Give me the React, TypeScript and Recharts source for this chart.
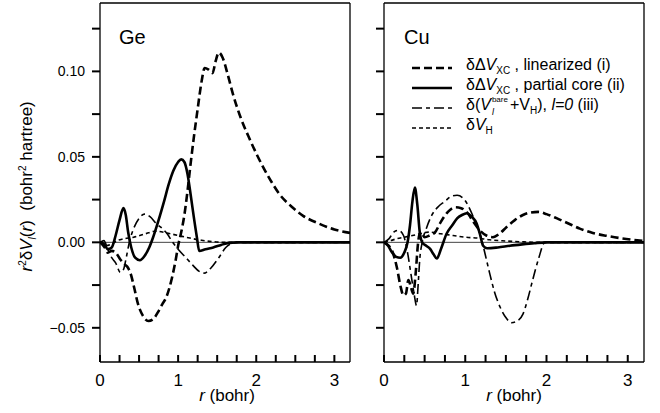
import { LineChart, Line, XAxis, YAxis, ReferenceLine } from 'recharts'

// r (bohr) vs r^2 dV (bohr^2 hartree)
const GE_LINEARIZED = [
  [0, 0], [0.06, -0.003], [0.1, -0.006], [0.15, -0.005], [0.2, -0.006], [0.26, -0.01], [0.32, -0.013],
  [0.36, -0.015], [0.39, -0.018], [0.44, -0.027], [0.48, -0.035], [0.55, -0.043], [0.62, -0.046],
  [0.68, -0.045], [0.74, -0.041], [0.8, -0.036], [0.84, -0.033], [0.92, -0.021], [0.97, -0.01],
  [1.0, -0.002], [1.04, 0.006], [1.08, 0.016], [1.12, 0.03], [1.16, 0.046], [1.2, 0.061], [1.25, 0.078],
  [1.3, 0.094], [1.34, 0.102], [1.39, 0.101], [1.44, 0.099], [1.48, 0.106], [1.52, 0.111], [1.57, 0.108],
  [1.63, 0.099], [1.7, 0.087], [1.8, 0.073], [1.9, 0.062], [2.0, 0.052], [2.1, 0.043], [2.2, 0.035],
  [2.3, 0.028], [2.45, 0.021], [2.6, 0.0155], [2.8, 0.011], [3.0, 0.0075], [3.2, 0.0055],
]
const GE_PARTIAL = [
  [0, 0], [0.05, -0.001], [0.1, -0.004], [0.15, -0.003], [0.2, 0.004], [0.25, 0.013], [0.3, 0.02],
  [0.33, 0.016], [0.36, 0.006], [0.4, -0.003], [0.45, -0.009], [0.51, -0.0105], [0.57, -0.008],
  [0.63, -0.003], [0.68, 0.003], [0.75, 0.013], [0.82, 0.024], [0.88, 0.034], [0.94, 0.042], [1.0, 0.047],
  [1.04, 0.0485], [1.08, 0.047], [1.12, 0.04], [1.16, 0.028], [1.2, 0.015], [1.24, 0.003], [1.27, -0.005],
  [1.35, -0.004], [1.45, -0.003], [1.55, -0.0015], [1.65, -0.0003], [1.75, 0], [3.2, 0],
]
const GE_BARE = [
  [0, 0], [0.05, 0.001], [0.1, -0.004], [0.15, -0.009], [0.2, -0.012], [0.26, -0.0175], [0.3, -0.016],
  [0.34, -0.008], [0.38, 0.001], [0.43, 0.008], [0.5, 0.014], [0.57, 0.0165], [0.64, 0.015], [0.72, 0.011],
  [0.8, 0.008], [0.86, 0.005], [0.93, 0.0], [1.0, -0.004], [1.1, -0.009], [1.19, -0.0135], [1.27, -0.017],
  [1.33, -0.018], [1.42, -0.015], [1.52, -0.009], [1.61, -0.003], [1.7, -0.0005], [1.8, 0], [3.2, 0],
]
const GE_HARTREE = [
  [0, 0], [0.08, -0.002], [0.15, -0.001], [0.22, 0.001], [0.3, 0.002], [0.43, 0.003], [0.58, 0.005],
  [0.71, 0.0065], [0.85, 0.0055], [1.0, 0.004], [1.15, 0.0025], [1.3, 0.0012], [1.45, 0.0004], [1.6, 0], [3.2, 0],
]

const CU_LINEARIZED = [
  [0, 0], [0.06, -0.002], [0.1, -0.005], [0.16, -0.015], [0.2, -0.025], [0.24, -0.031], [0.27, -0.03],
  [0.3, -0.022], [0.33, -0.026], [0.36, -0.03], [0.39, -0.018], [0.42, 0.0], [0.45, 0.006], [0.5, 0.003],
  [0.56, 0.004], [0.63, 0.006], [0.7, 0.012], [0.79, 0.018], [0.88, 0.0205], [0.95, 0.02], [1.03, 0.017],
  [1.1, 0.012], [1.18, 0.007], [1.26, 0.004], [1.34, 0.003], [1.42, 0.005], [1.51, 0.009], [1.61, 0.013],
  [1.71, 0.016], [1.8, 0.0174], [1.9, 0.0178], [2.0, 0.0165], [2.13, 0.014], [2.27, 0.011], [2.41, 0.008],
  [2.57, 0.0055], [2.74, 0.0038], [2.9, 0.0025], [3.06, 0.0015], [3.2, 0.0008],
]
const CU_PARTIAL = [
  [0, 0], [0.05, -0.002], [0.1, -0.006], [0.15, -0.0085], [0.2, -0.009], [0.25, -0.006], [0.29, 0.0],
  [0.32, 0.01], [0.35, 0.024], [0.38, 0.032], [0.41, 0.022], [0.44, 0.006], [0.47, 0.0], [0.52, -0.002],
  [0.57, -0.004], [0.61, -0.007], [0.65, -0.0095], [0.7, -0.004], [0.77, 0.005], [0.84, 0.01], [0.9, 0.014],
  [0.96, 0.016], [1.02, 0.017], [1.08, 0.015], [1.14, 0.011], [1.18, 0.005], [1.22, -0.002], [1.27, -0.0035],
  [1.4, -0.003], [1.55, -0.002], [1.7, -0.0012], [1.85, -0.0005], [2.0, 0], [3.2, 0],
]
const CU_BARE = [
  [0, 0], [0.06, 0.002], [0.12, 0.006], [0.18, 0.007], [0.24, 0.004], [0.29, -0.006], [0.33, -0.018],
  [0.37, -0.03], [0.4, -0.037], [0.42, -0.025], [0.44, -0.01], [0.47, 0.0], [0.52, 0.008], [0.59, 0.016],
  [0.67, 0.021], [0.75, 0.024], [0.83, 0.027], [0.9, 0.0275], [0.97, 0.026], [1.03, 0.022], [1.08, 0.017],
  [1.13, 0.011], [1.18, 0.005], [1.22, -0.002], [1.26, -0.01], [1.3, -0.018], [1.36, -0.029], [1.43, -0.038],
  [1.5, -0.044], [1.57, -0.047], [1.64, -0.046], [1.71, -0.042], [1.77, -0.033], [1.83, -0.022],
  [1.9, -0.01], [1.98, 0], [3.2, 0],
]
const CU_HARTREE = [
  [0, 0], [0.08, 0.001], [0.15, 0.002], [0.25, 0.003], [0.4, 0.0045], [0.55, 0.006], [0.7, 0.005],
  [0.85, 0.004], [1.0, 0.003], [1.15, 0.0025], [1.3, 0.0015], [1.5, 0.0008], [1.7, 0.0003], [1.9, 0], [3.2, 0],
]

const X_TICKS = [0, 0.25, 0.5, 0.75, 1, 1.25, 1.5, 1.75, 2, 2.25, 2.5, 2.75, 3]
const X_LABELS = [0, 1, 2, 3]
const Y_TICKS = [-0.05, -0.025, 0, 0.025, 0.05, 0.075, 0.1, 0.125]

const FONT = '"Liberation Sans", Arial, Helvetica, sans-serif'
const INK = '#000'
const TW = 2 // tick stroke width

const STYLE = {
  lin: { strokeWidth: 2.6, dash: '8 4' },
  core: { strokeWidth: 2.6, dash: undefined },
  bare: { strokeWidth: 1.6, dash: '10 4 4 4' },
  hart: { strokeWidth: 1.6, dash: '4 3' },
}

const toPts = (arr: number[][]) => arr.map(([r, v]) => ({ r, v }))

// tickSize/tickMargin are 0 so x/y below sit on the axis line itself
function BottomTick({ x, y, payload }: any) {
  const lbl = X_LABELS.includes(payload.value)
  return (
    <g>
      <path d={`M${x},${y}V${y - 7}`} stroke={INK} strokeWidth={TW} fill="none" />
      {lbl && (
        <text x={x} y={y + 24} textAnchor="middle" fontSize={17} fontFamily={FONT} fill="#000">
          {payload.value}
        </text>
      )}
    </g>
  )
}

function TopTick({ x, y }: any) {
  return <path d={`M${x},${y}V${y + 7}`} stroke={INK} strokeWidth={TW} fill="none" />
}

function LeftTick({ x, y, payload, showLabel }: any) {
  const v = payload.value
  const major = Math.abs(v * 20 - Math.round(v * 20)) < 1e-6
  return (
    <g>
      <path d={`M${x - 8},${y}H${x}`} stroke={INK} strokeWidth={TW} fill="none" />
      {showLabel && major && (
        <text x={x - 15} y={y} dy={5} textAnchor="end" fontSize={14} fontFamily={FONT} fill="#000">
          {v.toFixed(2).replace('-', '\u2212')}
        </text>
      )}
    </g>
  )
}

function RightTick({ x, y }: any) {
  return <path d={`M${x},${y}H${x + 7}`} stroke={INK} strokeWidth={TW} fill="none" />
}

function Panel({ series, width, leftW, rightW, labels }: any) {
  const axisLine = { stroke: INK, strokeWidth: 1.3 }
  return (
    <LineChart width={width} height={413} margin={{ top: 0, right: 0, bottom: 0, left: 0 }}>
      <XAxis xAxisId="b" type="number" dataKey="r" domain={[0, 3.2]} ticks={X_TICKS} allowDataOverflow
        height={51} tickSize={0} tickMargin={0} tickLine={false} tick={BottomTick} axisLine={axisLine} interval={0} />
      <XAxis xAxisId="t" orientation="top" type="number" dataKey="r" domain={[0, 3.2]} ticks={X_TICKS}
        height={3} tickSize={0} tickMargin={0} tickLine={false} tick={TopTick} axisLine={axisLine} interval={0} />
      <YAxis yAxisId="l" type="number" domain={[-0.07, 0.14]} ticks={Y_TICKS} allowDataOverflow width={leftW}
        tickSize={0} tickMargin={0} tickLine={false} tick={(p: any) => <LeftTick {...p} showLabel={labels} />}
        axisLine={axisLine} interval={0} />
      <YAxis yAxisId="r" orientation="right" type="number" domain={[-0.07, 0.14]} ticks={Y_TICKS} width={rightW}
        tickSize={0} tickMargin={0} tickLine={false} tick={RightTick} axisLine={axisLine} interval={0} />
      <ReferenceLine xAxisId="b" yAxisId="l" y={0} stroke="#444" strokeWidth={1} />
      {series.map((s: any) => (
        <Line key={s.key} xAxisId="b" yAxisId="l" data={toPts(s.data)} dataKey="v" type="monotone"
          stroke="#000" strokeWidth={STYLE[s.key as keyof typeof STYLE].strokeWidth}
          strokeDasharray={STYLE[s.key as keyof typeof STYLE].dash} dot={false} isAnimationActive={false} />
      ))}
    </LineChart>
  )
}

function LegendRow({ k, children }: any) {
  const st = STYLE[k as keyof typeof STYLE]
  return (
    <div style={{ display: 'flex', alignItems: 'center', height: 20 }}>
      <svg width={48} height={10} style={{ marginRight: 8 }}>
        <line x1={2} y1={5} x2={42} y2={5} stroke="#000" strokeWidth={st.strokeWidth} strokeDasharray={st.dash} />
      </svg>
      <span style={{ fontSize: 16, whiteSpace: 'nowrap', lineHeight: '20px' }}>{children}</span>
    </div>
  )
}

const sub = { fontSize: 10, verticalAlign: -4 }

export default function App() {
  const ge = [
    { key: 'lin', data: GE_LINEARIZED },
    { key: 'core', data: GE_PARTIAL },
    { key: 'bare', data: GE_BARE },
    { key: 'hart', data: GE_HARTREE },
  ]
  const cu = [
    { key: 'lin', data: CU_LINEARIZED },
    { key: 'core', data: CU_PARTIAL },
    { key: 'bare', data: CU_BARE },
    { key: 'hart', data: CU_HARTREE },
  ]
  return (
    <div style={{ position: 'absolute', left: 0, top: 0, width: 660, height: 413, background: '#fff', fontFamily: FONT, color: '#000' }}>
      <div style={{ position: 'absolute', left: 0, top: 0 }}>
        <Panel series={ge} width={360} leftW={100} rightW={10} labels />
      </div>
      <div style={{ position: 'absolute', left: 360, top: 0 }}>
        <Panel series={cu} width={300} leftW={24} rightW={16} labels={false} />
      </div>

      <div style={{ position: 'absolute', left: 119, top: 26, fontSize: 20 }}>Ge</div>
      <div style={{ position: 'absolute', left: 404, top: 26, fontSize: 20 }}>Cu</div>

      <div style={{ position: 'absolute', left: 127, width: 200, top: 387, fontSize: 17, textAlign: 'center', lineHeight: 1 }}>
        <i>r</i> (bohr)
      </div>
      <div style={{ position: 'absolute', left: 414, width: 200, top: 387, fontSize: 17, textAlign: 'center', lineHeight: 1 }}>
        <i>r</i> (bohr)
      </div>

      <div style={{ position: 'absolute', left: 28, top: 181, width: 0, height: 0 }}>
        <div style={{ position: 'absolute', left: -150, top: -10, width: 300, textAlign: 'center', fontSize: 17, lineHeight: '20px', transform: 'rotate(-90deg)', whiteSpace: 'nowrap' }}>
          <i>r</i><sup style={{ fontSize: 10 }}>2</sup>δ<i>V</i><sub style={sub}><i>l</i></sub>(<i>r</i>)&nbsp;&nbsp;(bohr<sup style={{ fontSize: 10 }}>2</sup> hartree)
        </div>
      </div>

      <div style={{ position: 'absolute', left: 410, top: 58 }}>
        <LegendRow k="lin">δΔ<i>V</i><sub style={sub}>XC</sub> , linearized (i)</LegendRow>
        <LegendRow k="core">δΔ<i>V</i><sub style={sub}>XC</sub> , partial core (ii)</LegendRow>
        <LegendRow k="bare">
          δ(<i>V</i>
          <span style={{ position: 'relative', display: 'inline-block', width: 19, height: 10 }}>
            <span style={{ position: 'absolute', left: 1, top: -4, fontSize: 8, lineHeight: '8px' }}>bare</span>
            <i style={{ position: 'absolute', left: 1, top: 8, fontSize: 9, lineHeight: '9px' }}>l</i>
          </span>
          +V<sub style={sub}>H</sub>), <i>l=0</i> (iii)
        </LegendRow>
        <LegendRow k="hart">δ<i>V</i><sub style={sub}>H</sub></LegendRow>
      </div>
    </div>
  )
}
